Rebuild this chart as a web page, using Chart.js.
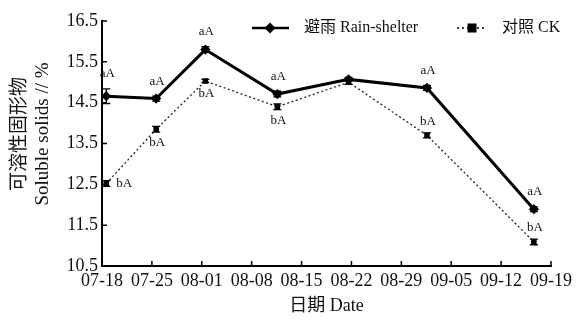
<!DOCTYPE html>
<html>
<head>
<meta charset="utf-8">
<script src="https://cdn.jsdelivr.net/npm/chart.js@4.4.1/dist/chart.umd.min.js"></script>
<style>
    html, body { margin: 0; padding: 0; background: #fff; }
</style>
</head>
<body>
<canvas id="solidsChart" width="576" height="320"></canvas>
<script>
const tickLabels = ['07-18', '07-25', '08-01', '08-08', '08-15', '08-22', '08-29', '09-05', '09-12', '09-19'];
// days after 07-18 at which samples were taken
const sampleDays = [0.6, 7.6, 14.5, 24.6, 34.6, 45.6, 60.6];
const rainShelter = [14.66, 14.60, 15.80, 14.71, 15.07, 14.86, 11.89];
const rainShelterErr = [0.18, 0.06, 0.07, 0.07, 0.05, 0.06, 0.06];
const ck = [12.52, 13.85, 15.03, 14.40, 15.00, 13.70, 11.09];
const ckErr = [0.07, 0.07, 0.04, 0.07, 0.05, 0.06, 0.07];
const rainLetters = ['aA', 'aA', 'aA', 'aA', '', 'aA', 'aA'];
const ckLetters = ['bA', 'bA', 'bA', 'bA', '', 'bA', 'bA'];
const yTitle = ['可溶性固形物', 'Soluble solids // %'];

const serif = "'Liberation Serif', 'Noto Sans CJK SC', serif";
const ink = '#111';

// where each significance letter goes relative to its point
const rainPlace = ['above', 'above', 'above', 'above', '', 'above', 'above'];
const ckPlace = ['right', 'below', 'below', 'below', '', 'above', 'above'];

const toPoints = (vals) => sampleDays.map((d, i) => ({ x: d, y: vals[i] }));

const errs = [rainShelterErr, ckErr];
const letters = [rainLetters, ckLetters];
const places = [rainPlace, ckPlace];

const config = {
    type: 'line',
    data: {
        datasets: [{
            label: '避雨 Rain-shelter',
            data: toPoints(rainShelter),
            borderColor: '#000',
            backgroundColor: '#000',
            borderWidth: 3,
            pointStyle: 'rectRot',
            pointRadius: 3,
            pointBackgroundColor: '#000',
            tension: 0
        }, {
            label: '对照 CK',
            data: toPoints(ck),
            borderColor: '#222',
            backgroundColor: '#000',
            borderWidth: 1.3,
            borderDash: [2, 2.5],
            pointStyle: 'rect',
            pointRadius: 3,
            pointBackgroundColor: '#000',
            pointBorderColor: '#000',
            tension: 0
        }]
    },
    options: {
        responsive: false,
        animation: false,
        layout: { padding: { left: 0, right: 20, top: 21, bottom: 0 } },
        plugins: { legend: { display: false }, tooltip: { enabled: false } },
        scales: {
            x: {
                type: 'linear',
                min: 0,
                max: 63,
                afterFit: s => { s.height = 54; },
                grid: { display: false, drawTicks: false },
                border: { display: true, color: '#000', width: 2 },
                ticks: {
                    stepSize: 7,
                    autoSkip: false,
                    maxRotation: 0,
                    padding: 4,
                    color: ink,
                    font: { family: serif, size: 18 },
                    callback: v => tickLabels[Math.round(v / 7)]
                },
                title: {
                    display: true,
                    text: '日期 Date',
                    color: ink,
                    font: { family: serif, size: 18 },
                    padding: { top: 0, bottom: 3 }
                }
            },
            y: {
                min: 10.5,
                max: 16.5,
                afterFit: s => { s.width = 102; },
                grid: { display: false, drawTicks: false },
                border: { display: true, color: '#000', width: 2 },
                ticks: {
                    stepSize: 1,
                    padding: 4,
                    color: ink,
                    font: { family: serif, size: 18 },
                    callback: v => v.toFixed(1)
                }
            }
        }
    },
    plugins: [
        {
            // inward tick marks + y axis title (sits a bit above plot centre)
            afterDraw: chart => {
                const ctx = chart.ctx;
                const xs = chart.scales.x, ys = chart.scales.y;
                const area = chart.chartArea;
                ctx.save();
                ctx.strokeStyle = '#000';
                ctx.lineWidth = 1.5;
                ctx.beginPath();
                ys.ticks.forEach(t => {
                    const y = ys.getPixelForValue(t.value);
                    ctx.moveTo(area.left, y);
                    ctx.lineTo(area.left + 5, y);
                });
                xs.ticks.forEach(t => {
                    const x = xs.getPixelForValue(t.value);
                    ctx.moveTo(x, area.bottom);
                    ctx.lineTo(x, area.bottom - 5);
                });
                ctx.stroke();

                ctx.translate(0, 134);
                ctx.rotate(-Math.PI / 2);
                ctx.fillStyle = ink;
                ctx.font = '19px ' + serif;
                ctx.textAlign = 'center';
                ctx.textBaseline = 'middle';
                ctx.fillText(yTitle[0], 0, 20);
                ctx.fillText(yTitle[1], 0, 43);
                ctx.restore();
            }
        },
        {
            // error bars and significance letters
            afterDatasetsDraw: chart => {
                const ctx = chart.ctx;
                const xs = chart.scales.x, ys = chart.scales.y;
                ctx.save();
                ctx.strokeStyle = '#000';
                ctx.lineWidth = 1.3;
                ctx.font = '13px ' + serif;
                ctx.fillStyle = ink;
                ctx.textAlign = 'center';
                ctx.textBaseline = 'middle';
                chart.data.datasets.forEach((ds, di) => {
                    ds.data.forEach((p, i) => {
                        const x = xs.getPixelForValue(p.x);
                        const yc = ys.getPixelForValue(p.y);
                        const yt = ys.getPixelForValue(p.y + errs[di][i]);
                        const yb = ys.getPixelForValue(p.y - errs[di][i]);
                        ctx.beginPath();
                        ctx.moveTo(x, yt); ctx.lineTo(x, yb);
                        ctx.moveTo(x - 4, yt); ctx.lineTo(x + 4, yt);
                        ctx.moveTo(x - 4, yb); ctx.lineTo(x + 4, yb);
                        ctx.stroke();

                        const txt = letters[di][i];
                        if (!txt) return;
                        const where = places[di][i];
                        if (where === 'above') ctx.fillText(txt, x + 1, yt - (di === 0 ? 15 : 11));
                        else if (where === 'below') ctx.fillText(txt, x + 1, yb + 11);
                        else ctx.fillText(txt, x + 18, yc);
                    });
                });
                ctx.restore();
            }
        },
        {
            // legend drawn inside plot, top right
            afterDraw: chart => {
                const ctx = chart.ctx;
                const y = 28;
                ctx.save();
                ctx.fillStyle = '#000';
                ctx.strokeStyle = '#000';

                ctx.lineWidth = 2.5;
                ctx.beginPath();
                ctx.moveTo(252, y); ctx.lineTo(289, y);
                ctx.stroke();
                ctx.beginPath();
                ctx.moveTo(270, y - 5.5); ctx.lineTo(275.5, y);
                ctx.lineTo(270, y + 5.5); ctx.lineTo(264.5, y);
                ctx.closePath();
                ctx.fill();

                ctx.lineWidth = 1.3;
                ctx.setLineDash([2, 3]);
                ctx.beginPath();
                ctx.moveTo(457, y); ctx.lineTo(487, y);
                ctx.stroke();
                ctx.setLineDash([]);
                ctx.fillRect(467.5, y - 4.5, 9, 9);

                ctx.fillStyle = ink;
                ctx.font = '16px ' + serif;
                ctx.textAlign = 'left';
                ctx.textBaseline = 'middle';
                ctx.fillText(chart.data.datasets[0].label, 304, y);
                ctx.fillText(chart.data.datasets[1].label, 502, y);
                ctx.restore();
            }
        }
    ]
};

new Chart(document.getElementById('solidsChart'), config);
</script>
</body>
</html>
